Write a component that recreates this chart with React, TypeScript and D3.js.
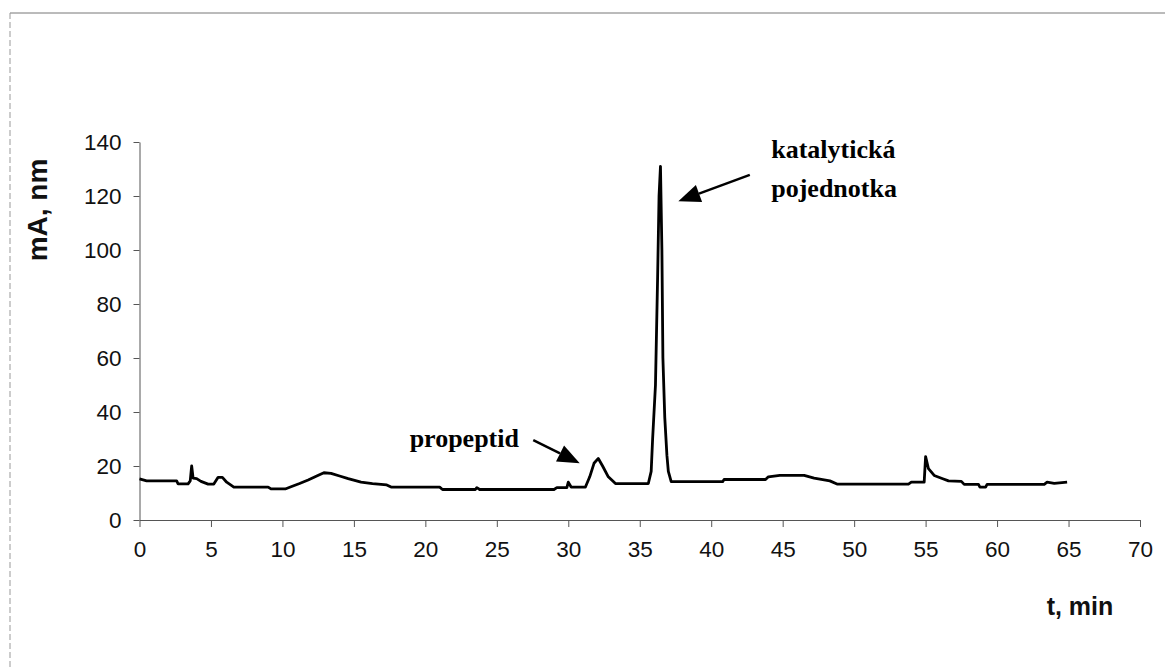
import { useEffect, useRef } from 'react'
import * as d3 from 'd3'

// chromatogram trace
const timeMin = [
	0, 0.5, 2.6, 2.7, 3.4, 3.55, 3.65, 3.75, 4.0, 4.3, 4.8, 5.2, 5.5, 5.8, 6.1, 6.6,
	9.0, 9.2, 10.2, 10.6, 11.2, 11.8, 12.4, 12.9, 13.4, 14.0, 14.6, 15.5, 16.3, 17.3,
	17.6, 21.0, 21.2, 23.5, 23.6, 23.8, 29.0, 29.2, 29.9, 30.0, 30.2, 31.2, 31.5, 31.8,
	32.1, 32.4, 32.8, 33.3, 35.6, 35.8, 35.9, 36.1, 36.25, 36.35, 36.45, 36.55, 36.62,
	36.75, 36.9, 37.0, 37.2, 40.8, 40.9, 43.8, 44.0, 44.8, 46.5, 47.2, 48.3, 48.8,
	53.8, 54.0, 54.9, 55.0, 55.2, 55.6, 56.2, 56.6, 57.5, 57.7, 58.7, 58.8, 59.2, 59.3,
	63.3, 63.5, 64.0, 64.9,
]
const absorbance = [
	15.2, 14.5, 14.5, 13.4, 13.4, 14.5, 20, 15.5, 15.3, 14.3, 13.3, 13.3, 15.8, 15.8, 14, 12.2,
	12.2, 11.5, 11.5, 12.3, 13.5, 14.8, 16.3, 17.5, 17.3, 16.3, 15.3, 14, 13.5, 13,
	12.2, 12.2, 11.3, 11.3, 12, 11.3, 11.3, 12, 12, 14, 12.2, 12.2, 16, 21,
	22.8, 20, 16, 13.5, 13.5, 18, 30, 50, 90, 120, 131, 100, 60,
	38, 24, 18, 14.2, 14.2, 15, 15, 16, 16.5, 16.5, 15.5, 14.5, 13.3,
	13.3, 14, 14, 23.5, 19, 16.5, 15.3, 14.5, 14.3, 13.2, 13.2, 12.2, 12.2, 13.2,
	13.2, 14, 13.6, 14,
]

const xTicks = d3.range(0, 71, 5)
const yTicks = d3.range(0, 141, 20)

// annotations: text anchor [t, value] and arrow [from t, from value, tip t, tip value]
const notes = [
	{ lines: ['katalytická', 'pojednotka'], at: [44.2, 134], arrow: [42.7, 127.8, 37.7, 118.1] },
	{ lines: ['propeptid'], at: [18.9, 27.1], arrow: [27.55, 29.6, 30.8, 21] },
]

export default function App() {
	const ref = useRef<SVGSVGElement>(null)
	const W = 1165
	const H = 670

	useEffect(() => {
		const svg = d3.select(ref.current)
		svg.selectAll('*').remove()

		const x = d3.scaleLinear().domain([0, 70]).range([139.5, 1140])
		const y = d3.scaleLinear().domain([0, 140]).range([520, 142])

		// outer frame (top and left edges visible in the scan)
		svg.append('line').attr('x1', 10).attr('y1', 13).attr('x2', W).attr('y2', 13)
			.attr('stroke', '#777').attr('stroke-width', 1)
		svg.append('line').attr('x1', 10).attr('y1', 13).attr('x2', 10).attr('y2', H)
			.attr('stroke', '#999').attr('stroke-width', 1).attr('stroke-dasharray', '6 3')

		const xAxis = d3.axisBottom(x).tickValues(xTicks).tickSize(7).tickSizeOuter(0).tickPadding(14)
		const gx = svg.append('g').attr('transform', `translate(0,${y(0)})`).call(xAxis)
		const yAxis = d3.axisLeft(y).tickValues(yTicks).tickSize(6).tickSizeOuter(0).tickPadding(12)
		const gy = svg.append('g').attr('transform', `translate(${x(0)},0)`).call(yAxis)

		for (const g of [gx, gy]) {
			g.select('.domain').attr('stroke', '#555').attr('stroke-width', 1)
			g.selectAll('.tick line').attr('stroke', '#555')
			g.selectAll('.tick text')
				.attr('fill', '#111')
				.style('font', '22.5px "Liberation Sans", Arial, sans-serif')
		}
		gx.selectAll('.tick text').attr('dy', '0.71em')

		// axis titles
		svg.append('text')
			.attr('transform', `translate(47,210) rotate(-90)`)
			.attr('text-anchor', 'middle')
			.style('font', 'bold 28px "Liberation Sans", Arial, sans-serif')
			.attr('fill', '#111')
			.text('mA, nm')
		svg.append('text')
			.attr('x', 1080)
			.attr('y', 615)
			.attr('text-anchor', 'middle')
			.style('font', 'bold 25px "Liberation Sans", Arial, sans-serif')
			.attr('fill', '#111')
			.text('t, min')

		// trace
		const pts = timeMin.map((t, i) => [t, absorbance[i]] as [number, number])
		const line = d3.line<[number, number]>()
			.x((d) => x(d[0]))
			.y((d) => y(d[1]))
		svg.append('path')
			.attr('d', line(pts))
			.attr('fill', 'none')
			.attr('stroke', '#000')
			.attr('stroke-width', 2.8)
			.attr('stroke-linejoin', 'round')

		// annotations
		notes.forEach((n) => {
			n.lines.forEach((s, i) => {
				svg.append('text')
					.attr('x', x(n.at[0]))
					.attr('y', y(n.at[1]) + i * 38.5)
					.style('font', 'bold 26px "Liberation Serif", "Times New Roman", serif')
					.attr('fill', '#000')
					.text(s)
			})
			const [t0, v0, t1, v1] = n.arrow
			const sx = x(t0), sy = y(v0), ex = x(t1), ey = y(v1)
			const len = Math.hypot(ex - sx, ey - sy)
			const ux = (ex - sx) / len, uy = (ey - sy) / len
			const headLen = 22, halfW = 9
			const bx = ex - ux * headLen, by = ey - uy * headLen
			svg.append('line')
				.attr('x1', sx).attr('y1', sy).attr('x2', bx).attr('y2', by)
				.attr('stroke', '#000').attr('stroke-width', 2.5)
			svg.append('polygon')
				.attr('points', [
					[ex, ey],
					[bx - uy * halfW, by + ux * halfW],
					[bx + uy * halfW, by - ux * halfW],
				].map((p) => p.join(',')).join(' '))
				.attr('fill', '#000')
		})
	}, [])

	return (
		<div style={{ position: 'absolute', left: 0, top: 0, background: '#fff' }}>
			<svg ref={ref} width={W} height={H} style={{ display: 'block' }} />
		</div>
	)
}
